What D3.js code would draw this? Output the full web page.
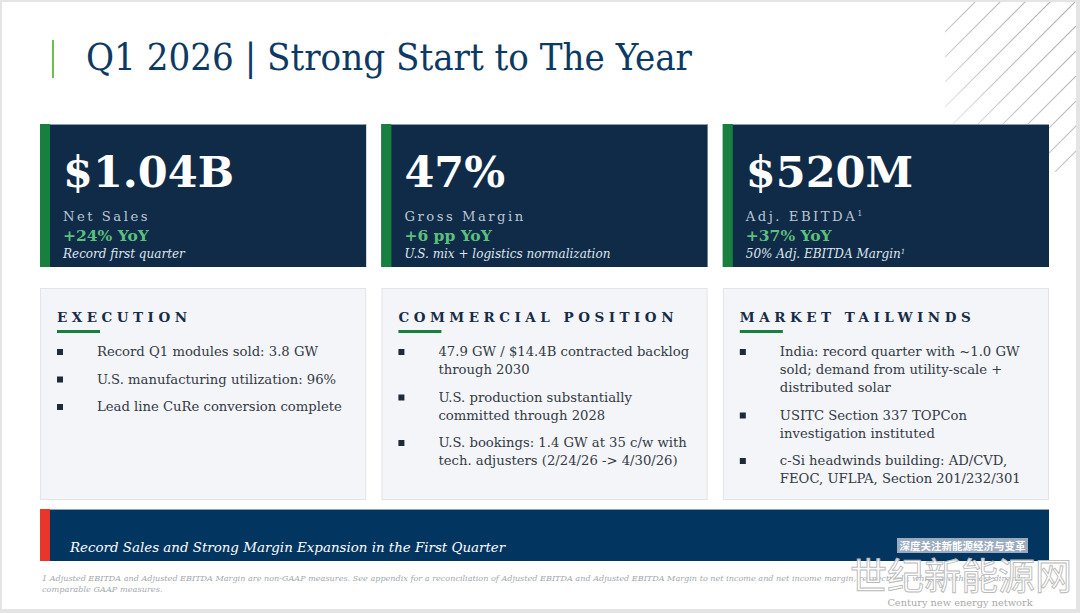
<!DOCTYPE html>
<html>
<head>
<meta charset="utf-8">
<script src="https://cdn.jsdelivr.net/npm/d3@7"></script>
<style>
  html, body { margin: 0; padding: 0; background: #e6e6e6; }
  svg { display: block; }
</style>
</head>
<body>
<script>
// ---------- DATA ----------
const title = "Q1 2026 | Strong Start to The Year";
const kpiValues = ["$1.04B", "47%", "$520M"];
const kpiLabels = ["Net Sales", "Gross Margin", "Adj. EBITDA"];
const kpiLabelSup = ["", "", "1"];
const kpiChanges = ["+24% YoY", "+6 pp YoY", "+37% YoY"];
const kpiNotes = ["Record first quarter", "U.S. mix + logistics normalization", "50% Adj. EBITDA Margin"];
const kpiNoteSup = ["", "", "1"];
const panelHeadings = ["EXECUTION", "COMMERCIAL POSITION", "MARKET TAILWINDS"];
const panelBullets = [
  [["Record Q1 modules sold: 3.8 GW"], ["U.S. manufacturing utilization: 96%"], ["Lead line CuRe conversion complete"]],
  [["47.9 GW / $14.4B contracted backlog", "through 2030"], ["U.S. production substantially", "committed through 2028"], ["U.S. bookings:  1.4 GW at 35 c/w with", "tech. adjusters (2/24/26 -> 4/30/26)"]],
  [["India: record quarter with ~1.0 GW", "sold; demand from utility-scale +", "distributed solar"], ["USITC Section 337 TOPCon", "investigation instituted"], ["c-Si headwinds building: AD/CVD,", "FEOC, UFLPA, Section 201/232/301"]]
];
const bannerText = "Record Sales and Strong Margin Expansion in the First Quarter";
const footnoteLines = [
  "1 Adjusted EBITDA and Adjusted EBITDA Margin are non-GAAP measures. See appendix for a reconciliation of Adjusted EBITDA and Adjusted EBITDA Margin to net income and net income margin, respectively, which are the most directly",
  "comparable GAAP measures."
];
const watermarkBadge = "深度关注新能源经济与变革";
const watermarkCN = "世纪新能源网";
const watermarkEN = "Century new energy network";

// ---------- LAYOUT ----------
const W = 1080, H = 613;
const SERIF = "'DejaVu Serif', 'Liberation Serif', serif";
const navyCard = "#0f2b47", green = "#17803f", lightGreen = "#5dbf7d";

const svg = d3.select("body").append("svg").attr("width", W).attr("height", H);
const defs = svg.append("defs");

// slide frame
svg.append("rect").attr("width", W).attr("height", H).attr("fill", "#e4e4e4");
svg.append("rect").attr("x", 2).attr("y", 2).attr("width", 1074).attr("height", 607).attr("fill", "#ffffff");

// hatch decoration (top-right)
const grad = defs.append("linearGradient").attr("id", "hfade").attr("x1", 0).attr("y1", 1).attr("x2", 1).attr("y2", 0);
grad.append("stop").attr("offset", 0).attr("stop-color", "#fff").attr("stop-opacity", 0);
grad.append("stop").attr("offset", 0.45).attr("stop-color", "#fff").attr("stop-opacity", 0.7);
grad.append("stop").attr("offset", 1).attr("stop-color", "#fff").attr("stop-opacity", 1);
const mask = defs.append("mask").attr("id", "hmask");
mask.append("rect").attr("x", 945).attr("y", 2).attr("width", 131).attr("height", 170).attr("fill", "url(#hfade)");
defs.append("clipPath").attr("id", "hclip").append("rect").attr("x", 945).attr("y", 2).attr("width", 131).attr("height", 170);
const hatch = svg.append("g").attr("clip-path", "url(#hclip)").attr("mask", "url(#hmask)");
hatch.selectAll("line").data(d3.range(977, 1260, 25)).join("line")
  .attr("x1", d => d).attr("y1", 0).attr("x2", d => d - 260).attr("y2", 260)
  .attr("stroke", "#a9a9a9").attr("stroke-width", 1.1);

// title
svg.append("rect").attr("x", 52).attr("y", 40).attr("width", 2).attr("height", 38).attr("fill", "#6cbf4a");
svg.append("text").attr("x", 86).attr("y", 70).text(title)
  .attr("font-family", "'DejaVu Serif Condensed', 'DejaVu Serif', serif")
  .attr("font-size", 37).attr("fill", "#0d3a63")
  .attr("textLength", 606).attr("lengthAdjust", "spacingAndGlyphs");

// column positions
const cols = d3.scaleBand().domain(d3.range(3)).range([40, 1049]).paddingInner(0.0446);
const cw = cols.bandwidth();

// KPI cards
const kpi = svg.selectAll("g.kpi").data(d3.range(3)).join("g").attr("class", "kpi")
  .attr("transform", i => `translate(${cols(i)},124)`);
kpi.append("rect").attr("width", cw).attr("height", 143).attr("fill", navyCard);
kpi.append("rect").attr("width", cw).attr("height", 1).attr("fill", "#8d9cb0");
kpi.append("rect").attr("width", 10).attr("height", 143).attr("fill", green);
kpi.append("text").attr("x", 23).attr("y", 63).text(i => kpiValues[i])
  .attr("font-family", SERIF).attr("font-weight", "bold").attr("font-size", 43).attr("fill", "#ffffff");
const lab = kpi.append("text").attr("x", 23).attr("y", 97)
  .attr("font-family", SERIF).attr("font-size", 13.2).attr("letter-spacing", 2.5).attr("fill", "#bcc6d3");
lab.append("tspan").text(i => kpiLabels[i]);
lab.append("tspan").attr("dy", -5).attr("font-size", 8).text(i => kpiLabelSup[i]);
kpi.append("text").attr("x", 23).attr("y", 117).text(i => kpiChanges[i])
  .attr("font-family", SERIF).attr("font-weight", "bold").attr("font-size", 15.5).attr("fill", lightGreen);
const note = kpi.append("text").attr("x", 23).attr("y", 134)
  .attr("font-family", SERIF).attr("font-style", "italic").attr("font-size", 12).attr("fill", "#dfe5ec");
note.append("tspan").text(i => kpiNotes[i]);
note.append("tspan").attr("dy", -4).attr("font-size", 7).text(i => kpiNoteSup[i]);

// bottom panels
const pan = svg.selectAll("g.panel").data(d3.range(3)).join("g").attr("class", "panel")
  .attr("transform", i => `translate(${cols(i)},288)`);
pan.append("rect").attr("x", 0.5).attr("y", 0.5).attr("width", cw - 1).attr("height", 211)
  .attr("fill", "#f3f5f8").attr("stroke", "#e1e4e8");
pan.append("text").attr("x", 17).attr("y", 34).text(i => panelHeadings[i])
  .attr("font-family", SERIF).attr("font-weight", "bold").attr("font-size", 13.5)
  .attr("letter-spacing", 4.5).attr("fill", "#172c47");
pan.append("rect").attr("x", 17).attr("y", 42).attr("width", 43).attr("height", 3).attr("fill", green);

const LH = 18, GAP = 27.5, FIRST = 68;
pan.each(function (i) {
  const g = d3.select(this);
  let y = FIRST;
  panelBullets[i].forEach(lines => {
    g.append("rect").attr("x", 17).attr("y", y - 7).attr("width", 6).attr("height", 6).attr("fill", "#1e2a3a");
    const t = g.append("text").attr("font-family", SERIF).attr("font-size", 13.2).attr("fill", "#333a45");
    lines.forEach((ln, k) => {
      t.append("tspan").attr("x", 57).attr("y", y + k * LH).text(ln);
    });
    y += (lines.length - 1) * LH + GAP;
  });
});

// banner
svg.append("rect").attr("x", 40).attr("y", 509).attr("width", 1009).attr("height", 52).attr("fill", "#033561");
svg.append("rect").attr("x", 40).attr("y", 509).attr("width", 1009).attr("height", 1).attr("fill", "#8fa3b8");
svg.append("rect").attr("x", 40).attr("y", 509).attr("width", 10).attr("height", 52).attr("fill", "#e8372a");
svg.append("text").attr("x", 70).attr("y", 552).text(bannerText)
  .attr("font-family", SERIF).attr("font-style", "italic").attr("font-size", 13.4).attr("fill", "#ffffff");

// footnote
const fn = svg.append("g").selectAll("text").data(footnoteLines).join("text")
  .attr("x", 42).attr("y", (d, k) => 581 + k * 11).text(d => d)
  .attr("font-family", SERIF).attr("font-style", "italic").attr("font-size", 8.2).attr("fill", "#a3a8ae");
fn.filter((d, k) => k === 0).attr("textLength", 983).attr("lengthAdjust", "spacingAndGlyphs");

// watermark badge
svg.append("rect").attr("x", 897).attr("y", 538).attr("width", 131).attr("height", 15).attr("fill", "#9aabbf");
svg.append("text").attr("x", 962.5).attr("y", 550).attr("text-anchor", "middle").text(watermarkBadge)
  .attr("font-family", "'Noto Sans CJK SC', sans-serif").attr("font-weight", "bold").attr("font-size", 10.5)
  .attr("fill", "#ffffff");
// watermark
svg.append("text").attr("x", 961).attr("y", 590).attr("text-anchor", "middle").text(watermarkCN)
  .attr("font-family", "'Noto Sans CJK SC', sans-serif").attr("font-size", 37)
  .attr("fill", "#ffffff").attr("fill-opacity", 0.85).attr("stroke", "#b9b9b9").attr("stroke-width", 0.9);
svg.append("text").attr("x", 960).attr("y", 606).attr("text-anchor", "middle").text(watermarkEN)
  .attr("font-family", SERIF).attr("font-size", 9.8).attr("fill", "#a9a9a9");
</script>
</body>
</html>
